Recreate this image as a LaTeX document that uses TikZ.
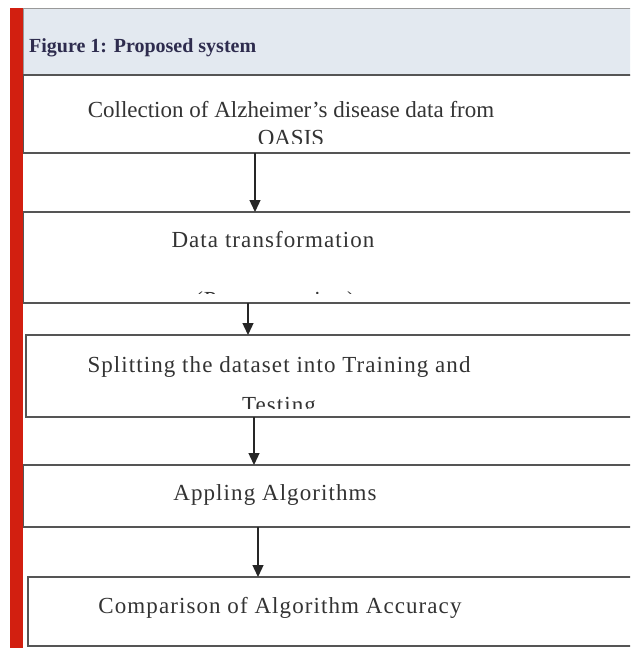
\documentclass[tikz,border=0pt]{standalone}
\usepackage{fontspec}
\setmainfont{Liberation Serif}
\newfontfamily\spacedserif[LetterSpace=4.7]{Liberation Serif}
\usetikzlibrary{arrows.meta,calc}
\definecolor{hdr}{HTML}{E3E9F0}
\definecolor{redbar}{HTML}{D21F10}
\definecolor{ttl}{HTML}{2E2C4E}
\definecolor{ln}{HTML}{555555}
\definecolor{txt}{HTML}{333333}
\tikzset{
  box/.style={draw=ln, line width=1.3pt, fill=white, rectangle, inner sep=0pt, outer sep=0pt, anchor=north west},
  lbl/.style={text=txt, inner sep=0pt, anchor=base, font=\fontsize{23}{27}\selectfont},
  slbl/.style={lbl, font=\spacedserif\fontsize{23}{27}\selectfont},
  arr/.style={draw=black!85, line width=1.3pt, -{Triangle[length=12pt,width=11pt]}},
}
\begin{document}
\begin{tikzpicture}[x=1pt,y=-1pt]
\useasboundingbox (0,0) rectangle (630,648);
\clip (0,0) rectangle (630,648);
\fill[white] (0,0) rectangle (630,648);
% header
\node[fill=hdr, draw=ln!60, line width=0.8pt, rectangle, inner sep=0pt, outer sep=0pt, anchor=north west, minimum width=620pt, minimum height=67pt] (hdr) at (23,8) {};
\node[text=ttl, anchor=base west, inner sep=0pt, font=\bfseries\fontsize{20}{24}\selectfont] (title) at (29,52) {Figure 1: Proposed system};
% boxes
\node[box, minimum width=620pt, minimum height=78pt] (b1) at (23,75) {};
\node[box, minimum width=620pt, minimum height=91pt] (b2) at (23,212) {};
\node[box, minimum width=617pt, minimum height=82pt] (b3) at (26,335) {};
\node[box, minimum width=620pt, minimum height=62pt] (b4) at (23,465) {};
\node[box, minimum width=615pt, minimum height=69pt] (b5) at (28,577) {};
% texts (clipped)
\begin{scope}
\clip (b1.north west) rectangle ($(b1.south east)+(0,-10)$);
\node[lbl] (t1a) at (291,117) {Collection of Alzheimer’s disease data from};
\node[lbl] (t1b) at (291,145) {OASIS};
\end{scope}
\begin{scope}
\clip (b2.north west) rectangle ($(b2.south east)+(0,-10)$);
\node[slbl] (t2a) at (273,247) {Data transformation};
\node[slbl] (t2b) at (275,307) {(Preprocessing)};
\end{scope}
\begin{scope}
\clip (b3.north west) rectangle ($(b3.south east)+(0,-9)$);
\node[slbl] (t3a) at (279,372) {Splitting the dataset into Training and};
\node[slbl] (t3b) at (279,412) {Testing};
\end{scope}
\node[slbl] (t4) at (275,500) {Appling Algorithms};
\node[slbl] (t5) at (280,613) {Comparison of Algorithm Accuracy};
% red bar
\node[fill=redbar, rectangle, inner sep=0pt, outer sep=0pt, anchor=north west, minimum width=13pt, minimum height=650pt] (bar) at (10,8) {};
% arrows
\coordinate (x1) at (255,0);
\coordinate (x2) at (248,0);
\coordinate (x3) at (254,0);
\coordinate (x4) at (258,0);
\draw[arr] (b1.south -| x1) -- (b2.north -| x1);
\draw[arr] (b2.south -| x2) -- (b3.north -| x2);
\draw[arr] (b3.south -| x3) -- (b4.north -| x3);
\draw[arr] (b4.south -| x4) -- (b5.north -| x4);
\end{tikzpicture}
\end{document}
